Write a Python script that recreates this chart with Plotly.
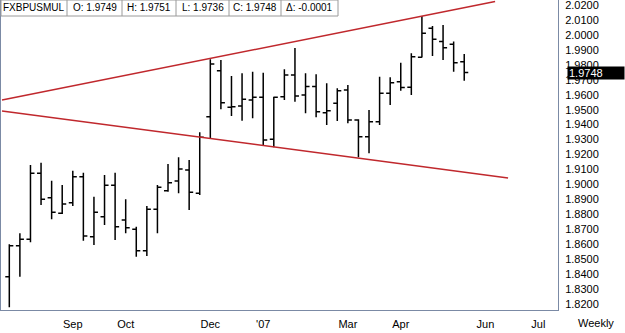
import plotly.graph_objects as go

# ---- data (weekly bars, dated by week-ending Friday) ----
dates = ["2006-07-21", "2006-07-28", "2006-08-04", "2006-08-11", "2006-08-18", "2006-08-25",
         "2006-09-01", "2006-09-08", "2006-09-15", "2006-09-22", "2006-09-29", "2006-10-06",
         "2006-10-13", "2006-10-20", "2006-10-27", "2006-11-03", "2006-11-10", "2006-11-17",
         "2006-11-24", "2006-12-01", "2006-12-08", "2006-12-15", "2006-12-22", "2006-12-29",
         "2007-01-05", "2007-01-12", "2007-01-19", "2007-01-26", "2007-02-02", "2007-02-09",
         "2007-02-16", "2007-02-23", "2007-03-02", "2007-03-09", "2007-03-16", "2007-03-23",
         "2007-03-30", "2007-04-06", "2007-04-13", "2007-04-20", "2007-04-27", "2007-05-04",
         "2007-05-11", "2007-05-18"]
opens = [1.8383, 1.8590, 1.8633, 1.9074, 1.8911, 1.8807, 1.8878, 1.9051, 1.8650, 1.8784,
         1.8994, 1.8762, 1.8700, 1.8557, 1.8833, 1.8958, 1.9023, 1.9096, 1.8941, 1.9453,
         1.9761, 1.9516, 1.9524, 1.9565, 1.9583, 1.9302, 1.9587, 1.9732, 1.9598, 1.9654,
         1.9480, 1.9542, 1.9631, 1.9431, 1.9319, 1.9419, 1.9609, 1.9687, 1.9650, 1.9850,
         2.0044, 1.9955, 1.9937, 1.9821]
highs = [1.8599, 1.8673, 1.9130, 1.9145, 1.9025, 1.8996, 1.9092, 1.9078, 1.8918, 1.9063,
         1.9078, 1.8900, 1.8717, 1.8855, 1.8996, 1.9136, 1.9181, 1.9163, 1.9349, 1.9837,
         1.9832, 1.9725, 1.9743, 1.9754, 1.9747, 1.9587, 1.9770, 1.9912, 1.9743, 1.9736,
         1.9676, 1.9643, 1.9665, 1.9435, 1.9498, 1.9720, 1.9716, 1.9814, 1.9877, 2.0126,
         2.0060, 2.0066, 1.9955, 1.9872]
lows = [1.8178, 1.8383, 1.8613, 1.8862, 1.8767, 1.8802, 1.8855, 1.8623, 1.8595, 1.8728,
        1.8628, 1.8673, 1.8516, 1.8521, 1.8673, 1.8951, 1.8941, 1.8829, 1.8929, 1.9308,
        1.9502, 1.9458, 1.9426, 1.9442, 1.9257, 1.9248, 1.9565, 1.9553, 1.9476, 1.9449,
        1.9397, 1.9424, 1.9409, 1.9181, 1.9208, 1.9397, 1.9531, 1.9627, 1.9598, 1.9848,
        1.9859, 1.9832, 1.9754, 1.9694]
closes = [1.8590, 1.8633, 1.9074, 1.8900, 1.8813, 1.8869, 1.9051, 1.8655, 1.8813, 1.8994,
          1.8717, 1.8710, 1.8557, 1.8833, 1.8981, 1.9011, 1.9103, 1.8947, 1.9315, 1.9805,
          1.9546, 1.9520, 1.9569, 1.9583, 1.9297, 1.9583, 1.9732, 1.9591, 1.9654, 1.9486,
          1.9493, 1.9627, 1.9431, 1.9319, 1.9419, 1.9609, 1.9680, 1.9648, 1.9854, 2.0011,
          1.9971, 1.9914, 1.9814, 1.9748]

upper_line_dates = ["2006-07-16 04:00", "2007-06-07 10:00"]
upper_line_prices = [1.9565, 2.0223]
lower_line_dates = ["2006-07-16 04:00", "2007-06-16 00:00"]
lower_line_prices = [1.9491, 1.9043]

x_tick_dates = ["2006-09-01", "2006-10-06", "2006-12-01", "2007-01-05",
                "2007-03-02", "2007-04-06", "2007-06-01", "2007-07-06"]
x_tick_text = ["Sep", "Oct", "Dec", "'07", "Mar", "Apr", "Jun", "Jul"]
y_tick_vals = [1.82, 1.83, 1.84, 1.85, 1.86, 1.87, 1.88, 1.89, 1.90, 1.91, 1.92,
               1.93, 1.94, 1.95, 1.96, 1.97, 1.98, 1.99, 2.00, 2.01, 2.02]
y_tick_text = ["%.4f" % v for v in y_tick_vals]

header_cells = ["FXBPUSMUL", "O: 1.9749", "H: 1.9751", "L: 1.9736", "C: 1.9748", "Δ: -0.0001"]
last_price = 1.9748

# ---- layout geometry ----
W, H = 625, 333
ML, MR, MT, MB = 1, 67, 0, 23
PW, PH = W - ML - MR, H - MT - MB
FONT = "Liberation Sans"
FRAME = "#7b8aa5"
RED = "#c0282d"


def px_x(px):
    return (px - ML) / PW


def px_y(py):
    return 1 - (py - MT) / PH


fig = go.Figure()
fig.add_trace(go.Scatter(x=upper_line_dates, y=upper_line_prices, mode="lines",
                         line=dict(color=RED, width=1.5), hoverinfo="skip", showlegend=False))
fig.add_trace(go.Scatter(x=lower_line_dates, y=lower_line_prices, mode="lines",
                         line=dict(color=RED, width=1.5), hoverinfo="skip", showlegend=False))
fig.add_trace(go.Ohlc(x=dates, open=opens, high=highs, low=lows, close=closes,
                      increasing=dict(line=dict(color="black", width=1.5)),
                      decreasing=dict(line=dict(color="black", width=1.5)),
                      tickwidth=0.38, showlegend=False, hoverinfo="skip"))

shapes = []
annotations = []

# header strip
cell_edges = [1, 67, 122, 176, 229, 281, 338]
shapes.append(dict(type="rect", xref="paper", yref="paper",
                   x0=px_x(cell_edges[0]), x1=px_x(cell_edges[-1]),
                   y0=px_y(16), y1=px_y(0),
                   line=dict(color="#9a9a9a", width=1), fillcolor="white", layer="above"))
for e in cell_edges[1:-1]:
    shapes.append(dict(type="line", xref="paper", yref="paper",
                       x0=px_x(e), x1=px_x(e), y0=px_y(16), y1=px_y(0),
                       line=dict(color="#9a9a9a", width=1), layer="above"))
for i, t in enumerate(header_cells):
    cx = (cell_edges[i] + cell_edges[i + 1]) / 2
    annotations.append(dict(text=t, xref="paper", yref="paper", x=px_x(cx), y=px_y(8),
                            xanchor="center", yanchor="middle", showarrow=False,
                            font=dict(family=FONT, size=10, color="black")))

# last price tag
annotations.append(dict(text=f"{last_price:.4f}", xref="paper", yref="y",
                        x=px_x(567), y=last_price, xanchor="left", yanchor="middle",
                        showarrow=False, bgcolor="black", width=54, height=10,
                        align="left", borderpad=1,
                        font=dict(family=FONT, size=11, color="white")))
# period label
annotations.append(dict(text="Weekly", xref="paper", yref="paper",
                        x=px_x(596), y=px_y(323), xanchor="center", yanchor="middle",
                        showarrow=False, font=dict(family=FONT, size=11, color="black")))

fig.update_layout(
    width=W, height=H,
    margin=dict(l=ML, r=MR, t=MT, b=MB, pad=0),
    paper_bgcolor="white", plot_bgcolor="white",
    showlegend=False,
    shapes=shapes, annotations=annotations,
    font=dict(family=FONT, size=11, color="black"),
    xaxis=dict(type="date", range=["2006-07-15 12:00", "2007-07-19 01:00"],
               tickmode="array", tickvals=x_tick_dates, ticktext=x_tick_text,
               showgrid=False, zeroline=False, showline=True, mirror=True,
               linecolor=FRAME, linewidth=1, ticks="", ticklen=0, ticklabelstandoff=4,
               rangeslider=dict(visible=False), fixedrange=True,
               tickfont=dict(family=FONT, size=11, color="black")),
    yaxis=dict(side="right", range=[1.81599, 2.02334],
               tickmode="array", tickvals=y_tick_vals, ticktext=y_tick_text,
               showgrid=False, zeroline=False, showline=True, mirror=True,
               linecolor=FRAME, linewidth=1, ticks="", ticklen=0, ticklabelstandoff=4,
               ticklabeloverflow="allow", fixedrange=True,
               tickfont=dict(family=FONT, size=11, color="black")),
)

fig.write_html("out.html")
